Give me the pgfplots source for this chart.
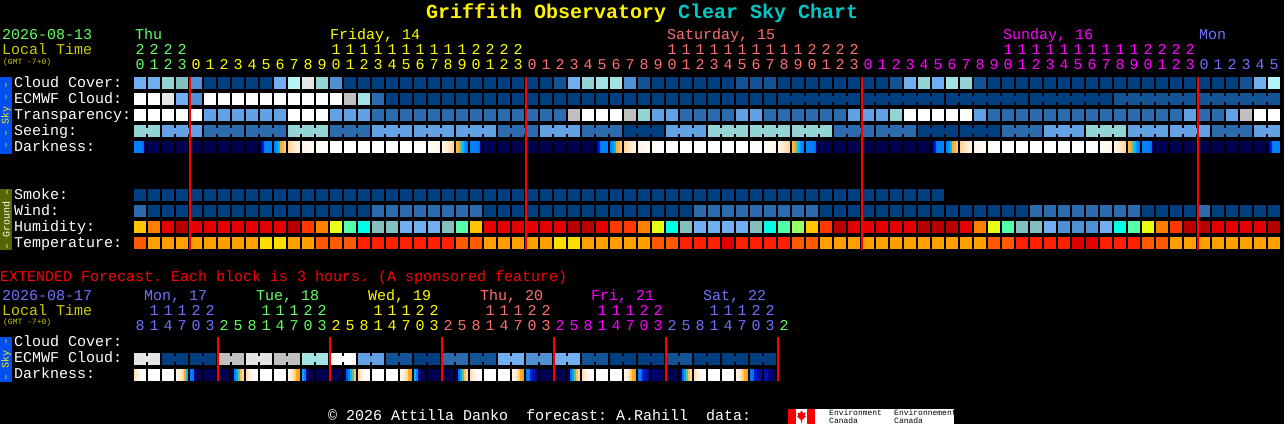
\documentclass[border=0pt]{standalone}
\usepackage{pgfplots}
\usepackage{pgfplotstable}
\usepackage{fontspec}
\pgfplotsset{compat=1.18}
\setmainfont{Liberation Mono}
\frenchspacing
% block palette
\definecolor{pala}{HTML}{003F7F}\definecolor{palb}{HTML}{145496}\definecolor{palc}{HTML}{2C6CAE}
\definecolor{pald}{HTML}{4F8FD3}\definecolor{pale}{HTML}{62A2E4}\definecolor{palf}{HTML}{71AFF0}
\definecolor{palg}{HTML}{94D4D4}\definecolor{palh}{HTML}{83BFBF}\definecolor{pali}{HTML}{A3E3E3}
\definecolor{palj}{HTML}{B4F4F4}\definecolor{palk}{HTML}{E5E5E5}\definecolor{pall}{HTML}{C0C0C0}
\definecolor{palm}{HTML}{FFFFFF}\definecolor{paln}{HTML}{FFC400}\definecolor{palo}{HTML}{FF8000}
\definecolor{palp}{HTML}{E40000}\definecolor{palq}{HTML}{B80000}\definecolor{palr}{HTML}{FF3800}
\definecolor{pals}{HTML}{E8FF14}\definecolor{palt}{HTML}{55FFAA}\definecolor{palu}{HTML}{00FFE6}
\definecolor{palv}{HTML}{99FF66}\definecolor{palw}{HTML}{FF5A00}\definecolor{palx}{HTML}{FFA000}
\definecolor{paly}{HTML}{FFDE00}\definecolor{palz}{HTML}{FF2000}\definecolor{palA}{HTML}{E00000}
% day colours
\definecolor{dc0}{HTML}{66FF66}\definecolor{dc1}{HTML}{FFFF00}\definecolor{dc2}{HTML}{FF7070}
\definecolor{dc3}{HTML}{FF00FF}\definecolor{dc4}{HTML}{7070FF}
\definecolor{loc}{HTML}{CCCC00}\definecolor{sky}{HTML}{0050F0}\definecolor{gnd}{HTML}{556600}
\definecolor{cyt}{HTML}{00C8C8}

\pgfdeclareplotmark{blk}{\pgfpathrectangle{\pgfqpoint{-6pt}{-6pt}}{\pgfqpoint{12pt}{12pt}}\pgfusepathqfill}
\pgfdeclareplotmark{dblk}{\pgfpathrectangle{\pgfqpoint{-1.1pt}{-6pt}}{\pgfqpoint{2.2pt}{12pt}}\pgfusepathqfill}

\pgfplotsset{
  blocks/.style={scatter,only marks,mark=blk,forget plot,point meta=explicit symbolic,
    scatter/classes={a={mark=blk,pala},b={mark=blk,palb},c={mark=blk,palc},d={mark=blk,pald},e={mark=blk,pale},
      f={mark=blk,palf},g={mark=blk,palg},h={mark=blk,palh},i={mark=blk,pali},j={mark=blk,palj},k={mark=blk,palk},
      l={mark=blk,pall},m={mark=blk,palm},n={mark=blk,paln},o={mark=blk,palo},p={mark=blk,palp},q={mark=blk,palq},
      r={mark=blk,palr},s={mark=blk,pals},t={mark=blk,palt},u={mark=blk,palu},v={mark=blk,palv},w={mark=blk,palw},
      x={mark=blk,palx},y={mark=blk,paly},z={mark=blk,palz},A={mark=blk,palA},N={mark=blk,black}}},
  darks/.style={scatter,only marks,mark=dblk,forget plot,point meta=explicit},
  colormap={dk}{rgb255(0)=(0,0,60) rgb255(5)=(0,0,95) rgb255(12)=(0,0,130) rgb255(20)=(0,20,190)
    rgb255(30)=(0,90,235) rgb255(40)=(0,128,255) rgb255(46)=(0,185,255) rgb255(50)=(100,190,150)
    rgb255(52)=(255,150,0) rgb255(60)=(255,170,40) rgb255(68)=(255,214,150) rgb255(76)=(255,232,200)
    rgb255(84)=(255,243,226) rgb255(92)=(255,250,242) rgb255(100)=(255,255,255)}
}

\pgfplotstableread{
i cloud ecm trans see smoke wind hum temp
0 f m m g a c n w
1 f m m g a a o x
2 g k m e a a p x
3 h f m e a a q x
4 d d m e a a p x
5 a m e c a a p x
6 a m e c a a p x
7 a m e c a a p x
8 a m e c a a p x
9 a m e c a a p y
10 f m e c a a p y
11 j m m g a a q x
12 k m m g a a r x
13 g m m g a a o w
14 d m e c a a s w
15 a l e c a a t w
16 a i e c a a u z
17 a c c e a c h z
18 a a c e a c h z
19 a a c e a c f z
20 a a c e a c f z
21 a a c e a c f z
22 a a c e a c h z
23 a a c e a c t w
24 a a c e a c n w
25 a a c e a a p x
26 a a c c a a p x
27 a a c c a a p x
28 a a c c a a p x
29 a a c e a a p x
30 b a c e a a p y
31 f a l e a a q y
32 g a m c a a q x
33 i a m c a a p x
34 i a m c a a r x
35 d a l a a a r x
36 b a g a a a o x
37 a a e a a a s w
38 a a e e a a u w
39 a a c e a a h z
40 a a c e a c f z
41 a a c g a c f z
42 a a c g a c f A
43 b a e g a c f z
44 b a e g a c h z
45 b a c g a c u z
46 a a c g a c t z
47 a a c g a c v w
48 a a c g a c n w
49 a a c g a a r x
50 a a c c a a q x
51 a a e c a a p x
52 a a e c a a p x
53 a a e c a a p x
54 b a g c a a p x
55 f a m c a a p x
56 g a m a a a q x
57 f a m a a a q x
58 i a m a N a q x
59 g a m a N a p x
60 b a e a N a o x
61 a a c a N a s w
62 a a c c N a t w
63 a a c c N a h z
64 a a c c N c h z
65 a a c e N c f z
66 a a c e N c d z
67 a a c e N c d A
68 a a c g N c d A
69 a a c g N c f z
70 a b c g N c u z
71 a b c e N c t z
72 a b c e N a s w
73 a b c e N a o w
74 a b c e N a r x
75 a b e e N a q x
76 a b c e N c q x
77 a b c c N a p x
78 a b e c N a p x
79 b b l c N a p x
80 f b m e N a p x
81 j b m e N a q x
}\maintab

\pgfplotstableread{
i d1 d2 d3 d4 d5 d6
0 40 40 40 40 35 12
1 6 4 3 3 3 3
2 3 3 3 3 3 3
3 3 3 3 3 3 3
4 3 3 3 3 3 3
5 3 3 3 3 3 3
6 3 3 3 3 3 3
7 3 3 3 3 3 3
8 3 3 3 3 3 3
9 10 22 38 40 40 40
10 40 42 46 60 62 66
11 68 70 74 78 80 84
12 86 88 90 92 94 94
13 92 94 95 96 97 98
14 100 100 100 100 100 100
15 100 100 100 100 100 100
16 100 100 100 100 100 100
17 100 100 100 100 100 100
18 100 100 100 100 100 100
19 100 100 100 100 100 100
20 100 100 99 99 98 97
21 98 96 94 92 90 88
22 86 82 78 74 72 68
23 62 58 50 46 42 40
24 40 40 40 40 35 12
25 6 4 3 3 3 3
26 3 3 3 3 3 3
27 3 3 3 3 3 3
28 3 3 3 3 3 3
29 3 3 3 3 3 3
30 3 3 3 3 3 3
31 3 3 3 3 3 3
32 3 3 3 3 3 3
33 10 22 38 40 40 40
34 40 42 46 60 62 66
35 68 70 74 78 80 84
36 86 88 90 92 94 94
37 92 94 95 96 97 98
38 100 100 100 100 100 100
39 100 100 100 100 100 100
40 100 100 100 100 100 100
41 100 100 100 100 100 100
42 100 100 100 100 100 100
43 100 100 100 100 100 100
44 100 100 99 99 98 97
45 98 96 94 92 90 88
46 86 82 78 74 72 68
47 62 58 50 46 42 40
48 40 40 40 40 35 12
49 6 4 3 3 3 3
50 3 3 3 3 3 3
51 3 3 3 3 3 3
52 3 3 3 3 3 3
53 3 3 3 3 3 3
54 3 3 3 3 3 3
55 3 3 3 3 3 3
56 3 3 3 3 3 3
57 10 22 38 40 40 40
58 40 42 46 60 62 66
59 68 70 74 78 80 84
60 86 88 90 92 94 94
61 92 94 95 96 97 98
62 100 100 100 100 100 100
63 100 100 100 100 100 100
64 100 100 100 100 100 100
65 100 100 100 100 100 100
66 100 100 100 100 100 100
67 100 100 100 100 100 100
68 100 100 99 99 98 97
69 98 96 94 92 90 88
70 86 82 78 74 72 68
71 62 58 50 46 42 40
72 40 40 40 40 35 12
73 6 4 3 3 3 3
74 3 3 3 3 3 3
75 3 3 3 3 3 3
76 3 3 3 3 3 3
77 3 3 3 3 3 3
78 3 3 3 3 3 3
79 3 3 3 3 3 3
80 3 3 3 3 3 3
81 10 22 38 40 40 40
}\darktab

\pgfplotstableread{
i ecm d1 d2 d3 d4 d5 d6
0 k 74 80 88 94 98 100
1 k 100 100 100 100 100 100
2 a 100 100 100 99 98 96
3 a 88 82 76 68 60 46
4 a 40 38 12 4 3 3
5 a 3 3 3 3 3 3
6 l 3 3 3 3 3 3
7 l 3 40 44 50 64 68
8 k 72 78 86 92 96 99
9 k 100 100 100 100 100 100
10 l 100 100 100 99 98 96
11 l 86 80 74 66 60 56
12 i 44 40 12 4 3 3
13 i 3 3 3 3 3 3
14 m 3 3 3 3 3 3
15 m 3 30 40 46 50 64
16 e 70 76 84 92 96 99
17 e 100 100 100 100 100 100
18 b 100 100 100 99 98 96
19 b 88 82 76 68 60 56
20 a 46 40 14 8 4 3
21 a 3 3 3 3 3 3
22 c 3 3 3 3 3 3
23 c 3 38 44 50 64 68
24 b 72 78 86 92 96 99
25 b 100 100 100 100 100 100
26 f 100 100 100 99 98 96
27 f 86 80 74 66 60 56
28 d 40 40 22 20 18 14
29 d 3 3 3 3 3 3
30 f 3 3 3 3 3 3
31 f 3 38 44 50 64 68
32 b 72 78 86 92 96 99
33 b 100 100 100 100 100 100
34 a 100 100 100 99 98 96
35 a 86 80 74 66 60 56
36 a 40 38 22 20 18 14
37 a 14 10 8 6 5 4
38 b 3 3 3 3 3 3
39 b 3 36 44 50 64 68
40 a 72 78 86 92 96 99
41 a 100 100 100 100 100 100
42 a 100 100 100 99 98 96
43 a 86 80 74 66 60 56
44 a 38 36 20 20 18 16
45 a 18 18 14 10 6 4
}\exttab

% a run of linked blocks in a row: colour, row centre, first and last block
\newcommand\run[4]{\pgfmathtruncatemacro\xa{140+14*#3}\pgfmathtruncatemacro\xb{140+14*#4}%
  \addplot[line width=6pt,pal#1,forget plot] coordinates {(\xa,#2) (\xb,#2)};}
\newcommand\rowplot[3]{\addplot[blocks,#3] table[x expr=140+14*\thisrow{i},y expr=#2,meta=#1]{\maintab};}

\newcommand\fs{\fontsize{15}{16}\selectfont}
\newcommand\ft{\fontsize{8}{8}\selectfont}
\newcommand\T[4]{\node[anchor=base west,inner sep=0pt,text=#3,font=\fs] at (#1pt,{(424-#2)*1pt}) {#4};}
\newcommand\Ts[4]{\node[anchor=base west,inner sep=0pt,text=#3,font=\ft] at (#1pt,{(424-#2)*1pt}) {#4};}
\newcommand\D[4]{\node[anchor=base,inner sep=0pt,text=#3,font=\fs] at ({(140+14*#1)*1pt},{(424-#2)*1pt}) {#4};}

\begin{document}
\begin{tikzpicture}[x=1pt,y=1pt]
\path[use as bounding box] (0,0) rectangle (1284,424);
\begin{axis}[
  at={(0,0)},anchor=south west,
  scale only axis,width=1284pt,height=424pt,
  xmin=0,xmax=1284,ymin=0,ymax=424,y dir=reverse,
  axis line style={draw=none},ticks=none,
  axis background/.style={fill=black},
  clip marker paths=true,
  colormap name=dk,point meta min=0,point meta max=100,
]
% links between blocks
\run{g}{131}{0}{1}\run{e}{131}{2}{4}\run{c}{131}{5}{7}\run{c}{131}{8}{10}\run{g}{131}{11}{13}
\run{c}{131}{14}{16}\run{e}{131}{17}{19}\run{e}{131}{20}{22}\run{e}{131}{23}{25}\run{c}{131}{26}{28}
\run{e}{131}{29}{31}\run{c}{131}{32}{34}\run{a}{131}{35}{37}\run{e}{131}{38}{40}\run{g}{131}{41}{43}
\run{g}{131}{44}{46}\run{g}{131}{47}{49}\run{c}{131}{50}{52}\run{c}{131}{53}{55}\run{a}{131}{56}{58}
\run{a}{131}{59}{61}\run{c}{131}{62}{64}\run{e}{131}{65}{67}\run{g}{131}{68}{70}\run{e}{131}{71}{73}
\run{e}{131}{74}{76}\run{c}{131}{77}{79}\run{e}{131}{80}{81}
\run{a}{99}{46}{51}\run{a}{99}{52}{57}\run{a}{99}{58}{63}\run{a}{99}{64}{69}\run{b}{99}{70}{75}\run{b}{99}{76}{81}
\run{k}{359}{0}{1}\run{a}{359}{2}{3}\run{a}{359}{4}{5}\run{l}{359}{6}{7}\run{k}{359}{8}{9}\run{l}{359}{10}{11}
\run{i}{359}{12}{13}\run{m}{359}{14}{15}\run{e}{359}{16}{17}\run{b}{359}{18}{19}\run{a}{359}{20}{21}
\run{c}{359}{22}{23}\run{b}{359}{24}{25}\run{f}{359}{26}{27}\run{d}{359}{28}{29}\run{f}{359}{30}{31}
\run{b}{359}{32}{33}\run{a}{359}{34}{35}\run{a}{359}{36}{37}\run{b}{359}{38}{39}\run{a}{359}{40}{41}
\run{a}{359}{42}{43}\run{a}{359}{44}{45}
% sky and ground rows
\rowplot{cloud}{83}{}
\rowplot{ecm}{99}{}
\rowplot{trans}{115}{}
\rowplot{see}{131}{}
\rowplot{smoke}{195}{restrict x to domain=0:940}
\rowplot{wind}{211}{}
\rowplot{hum}{227}{}
\rowplot{temp}{243}{}
% darkness, six samples to a block
\pgfplotsinvokeforeach{1,...,6}{
  \addplot[darks] table[x expr=133+14*\thisrow{i}+2*#1,y expr=147,meta=d#1]{\darktab};
  \addplot[darks] table[x expr=133+14*\thisrow{i}+2*#1,y expr=375,meta=d#1]{\exttab};
}
% extended ECMWF
\addplot[blocks] table[x expr=140+14*\thisrow{i},y expr=359,meta=ecm]{\exttab};
% midnight lines
\pgfplotsinvokeforeach{190,526,862,1198}{
  \addplot[red,line width=2pt,forget plot] coordinates {(#1,77) (#1,250)};
}
\pgfplotsinvokeforeach{218,330,442,554,666,778}{
  \addplot[red,line width=2pt,forget plot] coordinates {(#1,337) (#1,381)};
}
\end{axis}

% title
\node[anchor=base west,inner sep=0pt,font=\fontsize{20}{22}\selectfont\bfseries] at (426pt,{(424-18.5)*1pt})
  {\textcolor{yellow}{Griffith Observatory} \textcolor{cyt}{Clear Sky Chart}};

% main header
\T{2}{40}{dc0}{2026-08-13}
\T{2}{55}{loc}{Local Time}
\Ts{3}{64.5}{loc}{(GMT -7+0)}
\T{135}{40}{dc0}{Thu}
\T{330}{40}{dc1}{Friday, 14}
\T{667}{40}{dc2}{Saturday, 15}
\T{1003}{40}{dc3}{Sunday, 16}
\T{1199}{40}{dc4}{Mon}
\foreach \i in {0,...,81}{
  \pgfmathtruncatemacro\day{floor((\i+20)/24)}
  \pgfmathtruncatemacro\hr{mod(\i+20,24)}
  \pgfmathtruncatemacro\dgt{mod(\hr,10)}
  \pgfmathtruncatemacro\tn{floor(\hr/10)}
  \pgfmathtruncatemacro\col{mod(\day,5)}
  \ifnum\tn>0 \D{\i}{55}{dc\col}{\tn}\fi
  \D{\i}{70}{dc\col}{\dgt}
}
% row labels
\T{14}{87}{white}{Cloud Cover:}
\T{14}{103}{white}{ECMWF Cloud:}
\T{14}{119}{white}{Transparency:}
\T{14}{135}{white}{Seeing:}
\T{14}{151}{white}{Darkness:}
\T{14}{199}{white}{Smoke:}
\T{14}{215}{white}{Wind:}
\T{14}{231}{white}{Humidity:}
\T{14}{247}{white}{Temperature:}
% side strips
\fill[sky] (0,424-77) rectangle (12,424-154);
\node[rotate=90,text=yellow,inner sep=0pt,font=\fontsize{10}{10}\selectfont] at (6,424-115.5) {– – Sky – –};
\fill[gnd] (0,424-189) rectangle (12,424-250);
\node[rotate=90,text=white,inner sep=0pt,font=\fontsize{10}{10}\selectfont] at (6,424-219.5) {– Ground –};
\fill[sky] (0,424-337) rectangle (12,424-382);
\node[rotate=90,text=yellow,inner sep=0pt,font=\fontsize{10}{10}\selectfont] at (6,424-359.5) {– Sky –};

% extended block
\T{0}{281}{red}{EXTENDED Forecast. Each block is 3 hours. (A sponsored feature)}
\T{2}{300}{dc4}{2026-08-17}
\T{2}{315}{loc}{Local Time}
\Ts{3}{324}{loc}{(GMT -7+0)}
\T{144}{300}{dc4}{Mon, 17}
\T{256}{300}{dc0}{Tue, 18}
\T{368}{300}{dc1}{Wed, 19}
\T{480}{300}{dc2}{Thu, 20}
\T{591}{300}{dc3}{Fri, 21}
\T{703}{300}{dc4}{Sat, 22}
\foreach \i in {0,...,46}{
  \pgfmathtruncatemacro\day{floor((8+3*\i)/24)}
  \pgfmathtruncatemacro\hr{mod(8+3*\i,24)}
  \pgfmathtruncatemacro\dgt{mod(\hr,10)}
  \pgfmathtruncatemacro\tn{floor(\hr/10)}
  \pgfmathtruncatemacro\col{mod(\day+4,5)}
  \ifnum\tn>0 \D{\i}{315}{dc\col}{\tn}\fi
  \D{\i}{330}{dc\col}{\dgt}
}
\T{14}{346}{white}{Cloud Cover:}
\T{14}{362}{white}{ECMWF Cloud:}
\T{14}{378}{white}{Darkness:}

% footer
\T{328}{420}{white}{© 2026 Attilla Danko~~forecast: A.Rahill~~data:}
\fill[red] (788,0) rectangle (815,424-409);
\fill[white] (796,0) rectangle (807,424-409);
\fill[white] (815,0) rectangle (954,424-409);
\fill[red] (801.5,424-410.5) -- (803,424-413) -- (805.5,424-412.5) -- (804.8,424-416) -- (806,424-416.5)
  -- (802,424-420) -- (802,424-422.5) -- (801,424-422.5) -- (801,424-420) -- (797,424-416.5)
  -- (798.2,424-416) -- (797.5,424-412.5) -- (800,424-413) -- cycle;
\Ts{829}{415}{black}{Environment}
\Ts{829}{423}{black}{Canada}
\Ts{894}{415}{black}{Environnement}
\Ts{894}{423}{black}{Canada}
\end{tikzpicture}
\end{document}
